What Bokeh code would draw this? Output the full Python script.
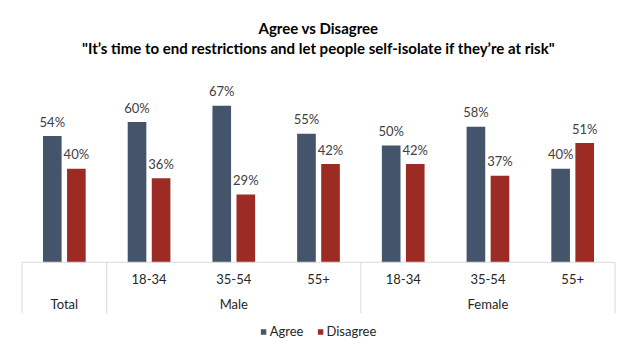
from bokeh.plotting import figure
from bokeh.models import (ColumnDataSource, Range1d, LabelSet, Legend,
                          LegendItem, Title)
from bokeh.embed import file_html
from bokeh.resources import INLINE
from bokeh.core.properties import value

# ---------------- data ----------------
groups = ["Total", "Male", "Male", "Male", "Female", "Female", "Female"]
subgroups = ["", "18-34", "35-54", "55+", "18-34", "35-54", "55+"]
agree = [54, 60, 67, 55, 50, 58, 40]
disagree = [40, 36, 29, 42, 42, 37, 51]
series_names = ["Agree", "Disagree"]
title_line1 = "Agree vs Disagree"
title_line2 = "\"It\u2019s time to end restrictions and let people self-isolate if they\u2019re at risk\""

# ---------------- style ----------------
AGREE_COLOR = "#44546A"
DISAGREE_COLOR = "#9C2B23"
FONT = "Lato"
AXIS_COLOR = "#D9D9D9"
DATA_LABEL_COLOR = "#404040"
CAT_LABEL_COLOR = "#262626"
OFFSET = 0.142
BAR_W = 0.22
SEP_BOTTOM = -21.8

n = len(groups)
centers = [i + 0.5 for i in range(n)]

src = ColumnDataSource(dict(
    x_a=[c - OFFSET for c in centers],
    x_d=[c + OFFSET for c in centers],
    agree=agree,
    disagree=disagree,
    agree_lbl=[f"{v}%" for v in agree],
    disagree_lbl=[f"{v}%" for v in disagree],
    center=centers,
    base=[0] * n,
    sub=subgroups,
))

# group runs
bounds = [0]
for i in range(1, n):
    if groups[i] != groups[i - 1]:
        bounds.append(i)
bounds.append(n)
group_names = [groups[b] for b in bounds[:-1]]
group_centers = [(bounds[k] + bounds[k + 1]) / 2 for k in range(len(bounds) - 1)]
gsrc = ColumnDataSource(dict(x=group_centers, base=[0] * len(group_centers),
                             name=group_names))
ssrc = ColumnDataSource(dict(x=bounds, y0=[0] * len(bounds),
                             y1=[SEP_BOTTOM] * len(bounds)))

p = figure(width=632, height=351, output_backend="svg", toolbar_location=None,
           x_range=Range1d(-0.1, n + 0.1), y_range=Range1d(-38.2, 88.06),
           x_axis_location=None, y_axis_location=None,
           min_border_left=13, min_border_right=9,
           min_border_top=56, min_border_bottom=0,
           outline_line_color=None,
           background_fill_color="white", border_fill_color="white")
p.xgrid.visible = False
p.ygrid.visible = False

r_a = p.vbar(x="x_a", top="agree", bottom=0, width=BAR_W, source=src,
             fill_color=AGREE_COLOR, line_color=None)
r_d = p.vbar(x="x_d", top="disagree", bottom=0, width=BAR_W, source=src,
             fill_color=DISAGREE_COLOR, line_color=None)

# axis line and separators
p.segment(x0=0, y0=0, x1=n, y1=0, line_color=AXIS_COLOR, line_width=1)
p.segment(x0="x", y0="y0", x1="x", y1="y1", source=ssrc,
          line_color=AXIS_COLOR, line_width=1)

# data labels
for xcol, ycol, tcol in (("x_a", "agree", "agree_lbl"), ("x_d", "disagree", "disagree_lbl")):
    p.add_layout(LabelSet(x=xcol, y=ycol, text=tcol, source=src,
                          text_align="center", text_baseline="middle",
                          y_offset=14.5, text_font=value(FONT),
                          text_font_size=value("13px"),
                          text_color=DATA_LABEL_COLOR))

# category labels
p.add_layout(LabelSet(x="center", y="base", text="sub", source=src,
                      text_align="center", text_baseline="middle",
                      y_offset=-16.6, text_font=value(FONT),
                      text_font_size=value("13px"), text_color=CAT_LABEL_COLOR))
p.add_layout(LabelSet(x="x", y="base", text="name", source=gsrc,
                      text_align="center", text_baseline="middle",
                      y_offset=-41.6, text_font=value(FONT),
                      text_font_size=value("13px"), text_color=CAT_LABEL_COLOR))

# legend
legend = Legend(items=[LegendItem(label=series_names[0], renderers=[r_a]),
                       LegendItem(label=series_names[1], renderers=[r_d])],
                orientation="horizontal", location="bottom_center",
                label_text_font=FONT, label_text_font_size="13px",
                label_text_color=CAT_LABEL_COLOR,
                glyph_width=7, glyph_height=7, label_standoff=3, spacing=13,
                padding=0, margin=12, border_line_color=None,
                background_fill_alpha=0)
p.add_layout(legend)

# titles (first added sits closest to the plot)
p.add_layout(Title(text=title_line2, align="center", text_font=FONT,
                   text_font_size="15px", text_font_style="bold",
                   text_color="black", standoff=0), "above")
p.add_layout(Title(text=title_line1, align="center", text_font=FONT,
                   text_font_size="15px", text_font_style="bold",
                   text_color="black", standoff=0), "above")

open("out.html", "w").write(file_html(p, INLINE))
